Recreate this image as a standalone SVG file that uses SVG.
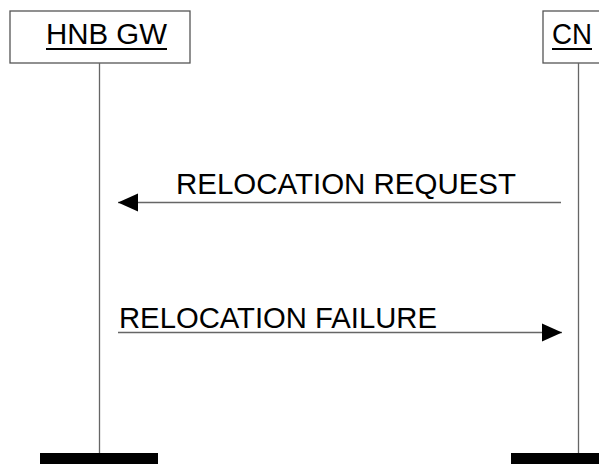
<svg xmlns="http://www.w3.org/2000/svg" width="599" height="464" viewBox="0 0 599 464">
<style>
.box{fill:#fff;stroke:#555;stroke-width:1.3}
.life{stroke:#666;stroke-width:1.3}
.msg{stroke:#666;stroke-width:1.3;fill:none}
.lbl{font-family:"Liberation Sans",Arial,sans-serif;font-size:29px;fill:#000}
.mlbl{font-family:"Liberation Sans",Arial,sans-serif;font-size:30px;fill:#000}
.ul{stroke:#000;stroke-width:2}
.bar{fill:#000}
</style>
<defs>
<marker id="ah" markerWidth="20" markerHeight="20" refX="20" refY="10" orient="auto" markerUnits="userSpaceOnUse">
<path d="M0,1 L20,10 L0,19 Z" fill="#000"/>
</marker>
</defs>
<g id="hnbgw">
<rect class="box" x="10" y="11" width="180" height="52"/>
<text class="lbl" x="46" y="43.5" textLength="121" lengthAdjust="spacingAndGlyphs">HNB GW</text>
<line class="ul" x1="46" y1="49" x2="167" y2="49"/>
<line class="life" x1="99.5" y1="63" x2="99.5" y2="455"/>
<rect class="bar" x="40" y="453" width="118" height="11"/>
</g>
<g id="cn">
<rect class="box" x="543" y="11" width="70" height="52"/>
<text class="lbl" x="552" y="43.5" textLength="40" lengthAdjust="spacingAndGlyphs">CN</text>
<line class="ul" x1="552" y1="49" x2="592" y2="49"/>
<line class="life" x1="578.5" y1="63" x2="578.5" y2="455"/>
<rect class="bar" x="511" y="453" width="100" height="11"/>
</g>
<g id="connectors">
<line class="msg" x1="561" y1="202.5" x2="118" y2="202.5" marker-end="url(#ah)"/>
<text class="mlbl" x="176" y="193.5" textLength="340" lengthAdjust="spacingAndGlyphs">RELOCATION REQUEST</text>
<line class="msg" x1="118" y1="332.5" x2="562" y2="332.5" marker-end="url(#ah)"/>
<text class="mlbl" x="119" y="328" textLength="318" lengthAdjust="spacingAndGlyphs">RELOCATION FAILURE</text>
</g>
</svg>
